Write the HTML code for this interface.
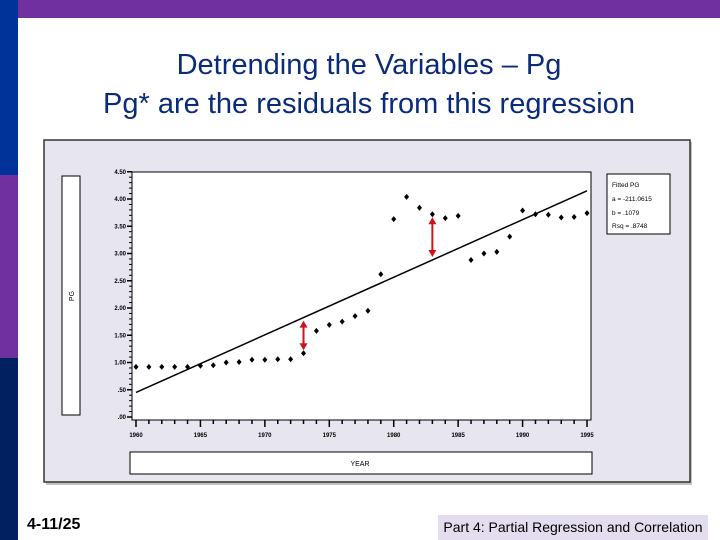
<!DOCTYPE html>
<html><head><meta charset="utf-8"><style>
body{margin:0;width:720px;height:540px;position:relative;overflow:hidden;background:#fff;font-family:"Liberation Sans",sans-serif}
div{position:absolute}
</style></head><body>
<div style="left:0;top:0;width:18px;height:175px;background:#003399"></div>
<div style="left:0;top:175px;width:18px;height:183px;background:#7030a0"></div>
<div style="left:0;top:358px;width:18px;height:182px;background:#002060"></div>
<div style="left:18px;top:0;width:702px;height:18px;background:#7030a0"></div>
<div style="left:18px;top:46px;width:702px;text-align:center;font-size:29px;line-height:39px;color:#0a2a7a">Detrending the Variables – Pg<br>Pg* are the residuals from this regression</div>
<div style="left:27px;top:516px;font-size:16px;font-weight:bold">4-11/25</div>
<div style="left:438px;top:515px;width:270px;height:25px;background:#e4dcef;font-size:14px;line-height:25px;text-align:center">Part 4: Partial Regression and Correlation</div>
<svg style="position:absolute;left:0;top:0" width="720" height="540" id="svg">
<rect x="46" y="142" width="646" height="343" fill="#888" opacity="0.5"/>
<rect x="44" y="140" width="646" height="342" fill="#e7e5ed" stroke="#333" stroke-width="1.5"/>
<rect x="62" y="176" width="18" height="239" fill="#fff" stroke="#000"/>
<text transform="translate(74,296) rotate(-90)" font-size="7" text-anchor="middle">PG</text>
<rect x="130" y="452" width="462" height="22" fill="#fff" stroke="#000"/>
<text x="360" y="466" font-size="7" text-anchor="middle">YEAR</text>
<rect x="132" y="172" width="459" height="248" fill="#fff" stroke="#000"/>
<rect x="607" y="174" width="63" height="60" fill="#fff" stroke="#000"/>
<g font-size="6.5">
<text x="612" y="187">Fitted PG</text><text x="612" y="201">a = -211.0615</text><text x="612" y="215">b = .1079</text><text x="612" y="228">Rsq = .8748</text></g>
<g id="marks"></g>
</svg>
<script>
const years=[1960,1961,1962,1963,1964,1965,1966,1967,1968,1969,1970,1971,1972,1973,1974,1975,1976,1977,1978,1979,1980,1981,1982,1983,1984,1985,1986,1987,1988,1989,1990,1991,1992,1993,1994,1995];
const pg=[0.92,0.92,0.92,0.92,0.92,0.94,0.95,1.0,1.01,1.05,1.05,1.06,1.06,1.17,1.58,1.69,1.75,1.85,1.95,2.62,3.63,4.04,3.84,3.72,3.65,3.69,2.88,3.0,3.03,3.31,3.79,3.72,3.71,3.66,3.67,3.74];
const fitStart=[1960,0.45];
const fitSlope=[0.1057];
const yTicks=[0,0.5,1,1.5,2,2.5,3,3.5,4,4.5];
const yTickLabels=[".00",".50","1.00","1.50","2.00","2.50","3.00","3.50","4.00","4.50"];
const xTickLabels=[1960,1965,1970,1975,1980,1985,1990,1995];
const residYears=[1973,1983];
const NS='http://www.w3.org/2000/svg';
const g=document.getElementById('marks');
const X=v=>136+(v-1960)*12.886, Y=v=>417-v*54.5;
const fit=yr=>fitStart[1]+(yr-fitStart[0])*fitSlope[0];
function mk(t,a){const e=document.createElementNS(NS,t);for(const k in a)e.setAttribute(k,a[k]);g.appendChild(e);return e;}
yTicks.forEach((v,i)=>{
 const l=mk('line',{x1:127,x2:132,y1:Y(v),y2:Y(v),stroke:'#000','stroke-width':1.5});
 
 
 const t=mk('text',{x:126,y:Y(v)+2,'font-size':6,'font-weight':'bold','text-anchor':'end'});t.textContent=yTickLabels[i];
 
 
 if(i<yTicks.length-1)for(let k=1;k<5;k++){const m=mk('line',{x1:129,x2:132,y1:Y(v+k*0.1),y2:Y(v+k*0.1),stroke:'#000'});
 
 }
});
years.forEach(yr=>{
 const major=(yr%5===0);
 const l=mk('line',{x1:X(yr),x2:X(yr),y1:420,y2:major?427:424,stroke:'#000','stroke-width':1.5});
 
 
});
xTickLabels.forEach(yr=>{const t=mk('text',{x:X(yr),y:437,'font-size':6,'font-weight':'bold','text-anchor':'middle'});t.textContent=yr;
 
 });
const fl=mk('line',{x1:X(years[0]),y1:Y(fit(years[0])),x2:X(years[years.length-1]),y2:Y(fit(years[years.length-1])),stroke:'#000','stroke-width':1.5});


years.forEach((yr,i)=>{
 const x=X(yr),y=Y(pg[i]);
 const p=mk('path',{d:`M${x},${y-3}L${x+2.5},${y}L${x},${y+3}L${x-2.5},${y}Z`,fill:'#000'});
 
 
});
residYears.forEach(yr=>{
 const i=years.indexOf(yr),x=X(yr);
 let y1=Y(pg[i]),y2=Y(fit(yr));const top=Math.min(y1,y2)+3,bot=Math.max(y1,y2)-3;
 const a=mk('g',{});
 
 
 [['line',{x1:x,x2:x,y1:top+4,y2:bot-4,stroke:'#d0121b','stroke-width':2}],
  ['path',{d:`M${x},${top}L${x-4},${top+7}L${x+4},${top+7}Z`,fill:'#d0121b'}],
  ['path',{d:`M${x},${bot}L${x-4},${bot-7}L${x+4},${bot-7}Z`,fill:'#d0121b'}]].forEach(([t,o])=>{const e=document.createElementNS(NS,t);for(const k in o)e.setAttribute(k,o[k]);a.appendChild(e);});
});
</script>
</body></html>
